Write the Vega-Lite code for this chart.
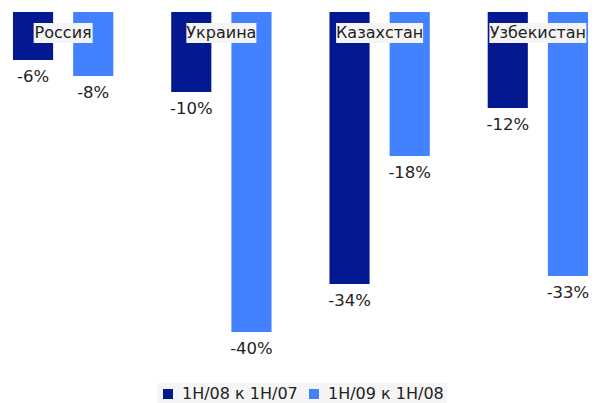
{
  "$schema": "https://vega.github.io/schema/vega-lite/v6.json",
  "width": 601,
  "height": 360,
  "autosize": {"type": "none"},
  "padding": {"left": 0, "top": 12, "right": 2, "bottom": 31},
  "config": {
    "view": {"stroke": null},
    "font": "DejaVu Sans",
    "locale": {"number": {"decimal": ".", "thousands": ",", "grouping": [3], "currency": ["$", ""], "minus": "-", "percent": "%"}}
  },
  "data": {
    "values": [
      {"country": "Россия", "series": "1H/08 к 1H/07", "value": -0.06},
      {"country": "Россия", "series": "1H/09 к 1H/08", "value": -0.08},
      {"country": "Украина", "series": "1H/08 к 1H/07", "value": -0.10},
      {"country": "Украина", "series": "1H/09 к 1H/08", "value": -0.40},
      {"country": "Казахстан", "series": "1H/08 к 1H/07", "value": -0.34},
      {"country": "Казахстан", "series": "1H/09 к 1H/08", "value": -0.18},
      {"country": "Узбекистан", "series": "1H/08 к 1H/07", "value": -0.12},
      {"country": "Узбекистан", "series": "1H/09 к 1H/08", "value": -0.33}
    ]
  },
  "encoding": {
    "x": {"field": "country", "type": "nominal", "sort": ["Россия", "Украина", "Казахстан", "Узбекистан"], "axis": null, "scale": {"paddingInner": 0.366, "paddingOuter": 0.082}}
  },
  "layer": [
    {
      "mark": {"type": "bar"},
      "encoding": {
        "xOffset": {"field": "series", "type": "nominal", "scale": {"paddingInner": 0.333, "paddingOuter": 0}},
        "y": {"field": "value", "type": "quantitative", "axis": null, "scale": {"domain": [-0.45, 0], "nice": false, "zero": false}},
        "color": {
          "field": "series", "type": "nominal",
          "scale": {"domain": ["1H/08 к 1H/07", "1H/09 к 1H/08"], "range": ["#041990", "#4281FF"]},
          "legend": {"title": null, "orient": "none", "legendX": 157, "legendY": 371, "direction": "horizontal", "fillColor": "#f5f5f5", "padding": 3, "symbolType": "square", "symbolSize": 100, "symbolStrokeWidth": 0, "labelFontSize": 16, "labelColor": "#222", "labelFont": "DejaVu Sans", "columnPadding": 8, "labelOffset": 6}
        }
      }
    },
    {
      "mark": {"type": "text", "baseline": "alphabetic", "dy": 21.5, "fontSize": 16.5, "color": "#222"},
      "encoding": {
        "xOffset": {"field": "series", "type": "nominal"},
        "y": {"field": "value", "type": "quantitative"},
        "text": {"field": "value", "type": "quantitative", "format": ".0%"}
      }
    },
    {
      "transform": [{"filter": "datum.series === '1H/08 к 1H/07'"}],
      "mark": {"type": "bar", "color": "#f5f5f5", "opacity": 1},
      "encoding": {
        "y": {"datum": -0.01375},
        "y2": {"datum": -0.03875},
        "size": {"field": "country", "type": "ordinal", "legend": null, "scale": {"type": "ordinal", "domain": ["Россия", "Украина", "Казахстан", "Узбекистан"], "range": [59, 70, 87, 97]}}
      }
    },
    {
      "transform": [{"filter": "datum.series === '1H/08 к 1H/07'"}],
      "mark": {"type": "text", "baseline": "middle", "fontSize": 16, "color": "#222"},
      "encoding": {
        "y": {"datum": -0.02625},
        "text": {"field": "country", "type": "nominal"}
      }
    }
  ]
}
